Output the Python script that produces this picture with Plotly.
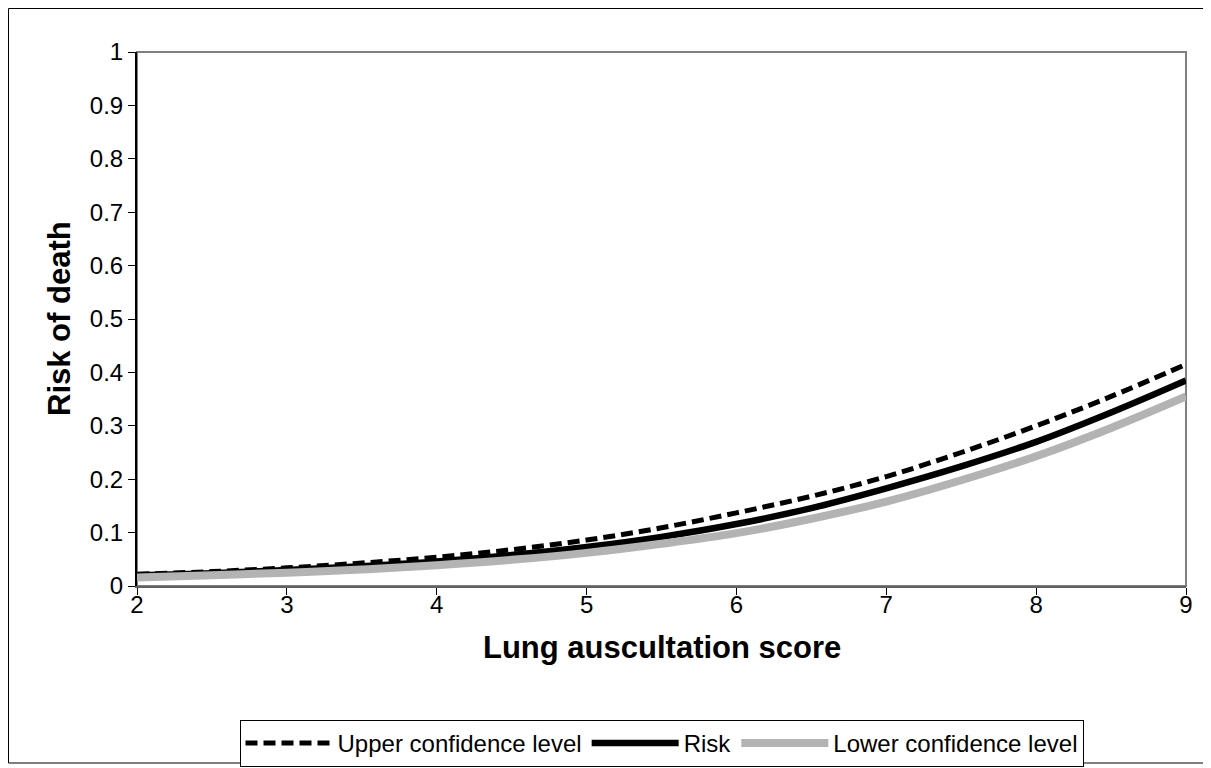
import plotly.graph_objects as go

score = [2, 2.5, 3, 3.5, 4, 4.5, 5, 5.5, 6, 6.5, 7, 7.5, 8, 8.5, 9]
risk = [0.020, 0.024, 0.030, 0.037, 0.046, 0.058, 0.073, 0.092, 0.116, 0.146, 0.183, 0.224, 0.270, 0.325, 0.385]
upper = [0.022, 0.027, 0.034, 0.043, 0.054, 0.068, 0.086, 0.109, 0.137, 0.168, 0.205, 0.250, 0.300, 0.355, 0.415]
lower = [0.016, 0.020, 0.025, 0.031, 0.039, 0.049, 0.062, 0.079, 0.099, 0.126, 0.158, 0.198, 0.243, 0.296, 0.355]
yticks = [0, 0.1, 0.2, 0.3, 0.4, 0.5, 0.6, 0.7, 0.8, 0.9, 1]
ylabels = ["0", "0.1", "0.2", "0.3", "0.4", "0.5", "0.6", "0.7", "0.8", "0.9", "1"]
xticks = [2, 3, 4, 5, 6, 7, 8, 9]

# page body has an 8px margin, so figure coords = screen coords - 8
W, H = 1203, 760
L, T = 129, 44
R = W - 1178
B = H - 578
pw, ph = W - L - R, H - T - B

fig = go.Figure()
fig.add_trace(go.Scatter(x=score, y=upper, mode="lines", name="Upper confidence level",
                         line=dict(color="black", width=5, dash="12px,6px", shape="spline")))
fig.add_trace(go.Scatter(x=score, y=risk, mode="lines", name="Risk",
                         line=dict(color="black", width=6.5, shape="spline")))
fig.add_trace(go.Scatter(x=score, y=lower, mode="lines", name="Lower confidence level",
                         line=dict(color="#b3b3b3", width=8, shape="spline")))

font = "Liberation Sans, Arial, sans-serif"

fig.add_shape(type="rect", xref="paper", yref="paper", x0=0, y0=0, x1=1, y1=1,
              line=dict(color="#808080", width=2), layer="below")
fig.add_shape(type="rect", xref="paper", yref="paper",
              x0=(0.5 - L) / pw, x1=(1197 - L) / pw,
              y0=(T + ph - 755) / ph, y1=(T + ph - 0.5) / ph,
              line=dict(color="black", width=1))

fig.add_annotation(text="<b>Lung auscultation score</b>", xref="paper", yref="paper",
                   x=0.5, y=0, xanchor="center", yanchor="middle", yshift=-61,
                   showarrow=False, font=dict(size=31, family=font, color="black"))
fig.add_annotation(text="<b>Risk of death</b>", xref="paper", yref="paper",
                   x=0, y=0.5, xanchor="center", yanchor="middle", xshift=-78,
                   textangle=-90, showarrow=False,
                   font=dict(size=31, family=font, color="black"))

fig.update_layout(
    width=W, height=H,
    margin=dict(l=L, r=R, t=T, b=B, autoexpand=False),
    paper_bgcolor="white", plot_bgcolor="white",
    font=dict(family=font, size=24, color="black"),
    showlegend=True,
    legend=dict(orientation="h", x=0.5, xanchor="center",
                y=(T + ph - 712) / ph, yanchor="top",
                bordercolor="black", borderwidth=1, bgcolor="white",
                font=dict(size=24, family=font), itemwidth=87,
                tracegroupgap=0),
    xaxis=dict(range=[2, 9], tickvals=xticks, ticks="outside",
               ticklen=7, tickcolor="black", showgrid=False, zeroline=False,
               showline=True, linecolor="#606060", linewidth=2,
               tickfont=dict(size=24), ticklabelstandoff=-11),
    yaxis=dict(range=[0, 1], tickvals=yticks, ticktext=ylabels,
               ticks="outside", ticklen=7, tickcolor="black", showgrid=False, zeroline=False,
               showline=True, linecolor="black", linewidth=2,
               tickfont=dict(size=24)),
)

fig.write_html("out.html")
